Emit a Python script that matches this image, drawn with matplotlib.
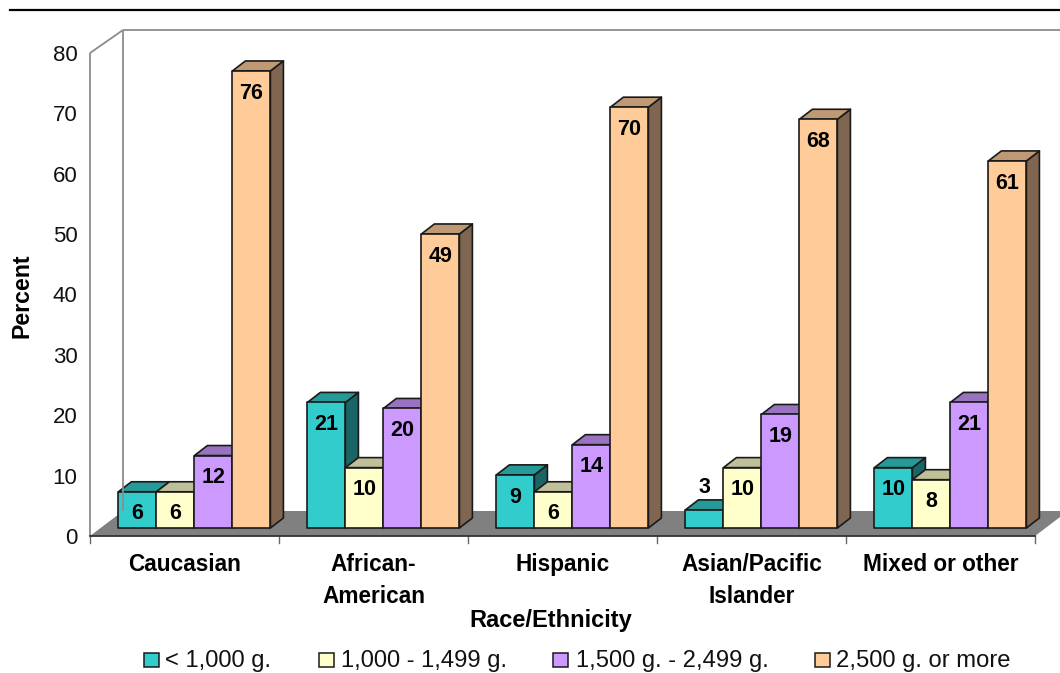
import matplotlib
matplotlib.use("Agg")
import matplotlib.pyplot as plt
from matplotlib.lines import Line2D
from matplotlib.patches import Polygon, Rectangle

plt.rcParams['font.family'] = ['Liberation Sans', 'DejaVu Sans']

# --- Data --------------------------------------------------------------------
categories = ['Caucasian', 'African-\nAmerican', 'Hispanic', 'Asian/Pacific\nIslander', 'Mixed or other']
under_1000 = [6, 20.8, 8.8, 3, 10]
from_1000 = [6, 10, 6, 10, 8]
from_1500 = [12, 19.8, 13.8, 18.8, 20.8]
over_2500 = [75.7, 48.7, 69.7, 67.7, 60.8]
series = [under_1000, from_1000, from_1500, over_2500]
series_names = ['< 1,000 g.', '1,000 - 1,499 g.', '1,500 g. - 2,499 g.', '2,500 g. or more']
y_ticks = [0, 10, 20, 30, 40, 50, 60, 70, 80]

front_colors = ['#33CCCC', '#FFFFCC', '#CC99FF', '#FFCC99']
top_colors = ['#269999', '#BFBF99', '#9973BF', '#BF9973']
side_colors = ['#1A6666', '#808066', '#664D80', '#806650']

W, H = 1060, 673
LEFT, RIGHT, ZERO, TOP = 90, 1035, 536, 53
PX_X = len(categories) / (RIGHT - LEFT)     # data units per pixel
PX_Y = 80 / (ZERO - TOP)

fig = plt.figure(figsize=(W / 100, H / 100), dpi=100, facecolor='white')
ax = fig.add_axes([LEFT / W, 1 - ZERO / H, (RIGHT - LEFT) / W, (ZERO - TOP) / H])
ax.set_xlim(0, len(categories))
ax.set_ylim(0, 80)
ax.patch.set_visible(False)
for s in ax.spines.values():
    s.set_visible(False)


# --- Walls and floor ---------------------------------------------------------
wall_dx, wall_dy, floor_dy = 33 * PX_X, 23 * PX_Y, 25 * PX_Y
n = len(categories)
ax.add_patch(Polygon([(0, 0), (n, 0), (n + wall_dx, floor_dy), (wall_dx, floor_dy)],
                     facecolor='#808080', edgecolor='none', clip_on=False))
wall = dict(color='#8C8C8C', lw=1.3, clip_on=False, solid_capstyle='butt')
ax.plot([0, 0], [0, 80], **wall)
ax.plot([0, wall_dx], [80, 80 + wall_dy], **wall)
ax.plot([wall_dx, wall_dx], [floor_dy, 80 + wall_dy], **wall)
ax.plot([wall_dx, n + wall_dx + 1], [80 + wall_dy, 80 + wall_dy], **wall)
ax.plot([0, n], [0, 0], color='#333333', lw=1.3, clip_on=False, zorder=3)
for i in range(n + 1):
    ax.plot([i, i], [0, -7 * PX_Y], color='#666666', lw=1.0, clip_on=False)


# --- Bars --------------------------------------------------------------------
bar_w = 38 * PX_X
start = 28.4 * PX_X
base = 8 * PX_Y
dx, dy = 13 * PX_X, 10 * PX_Y
edge = dict(edgecolor='#1A1A1A', linewidth=1.2, joinstyle='round', clip_on=False)

for g in range(n):
    for k, values in enumerate(series):
        x0 = g + start + k * bar_w
        top = base + values[g]
        x1 = x0 + bar_w
        ax.add_patch(Polygon([(x1, base), (x1 + dx, base + dy), (x1 + dx, top + dy), (x1, top)],
                             facecolor=side_colors[k], **edge))
        ax.add_patch(Polygon([(x0, top), (x1, top), (x1 + dx, top + dy), (x0 + dx, top + dy)],
                             facecolor=top_colors[k], **edge))
        ax.bar(x0, values[g], bar_w, bottom=base, align='edge', color=front_colors[k], **edge)
    for k, values in enumerate(series):
        x0 = g + start + k * bar_w
        top = base + values[g]
        offset = 16 if values[g] < 5 else -16
        ax.annotate(f'{values[g]:.0f}', (x0 + bar_w / 2, top), xytext=(0, offset),
                    textcoords='offset points', ha='center', va='center',
                    fontsize=15.5, fontweight='bold', color='black', zorder=5)


# --- Axes text ---------------------------------------------------------------
ax.set_yticks(y_ticks)
ax.tick_params(axis='y', length=0, pad=9, labelsize=16, labelcolor='#111111')
ax.set_xticks([])
ax.set_xticks([i + 0.5 for i in range(n)], categories, minor=True)
ax.tick_params(axis='x', which='minor', length=0, pad=12.5, labelsize=16.3)
for label in ax.get_xticklabels(minor=True):
    label.set_fontweight('bold')
    label.set_linespacing(1.47)

ax.set_xlabel('Race/Ethnicity', fontsize=17, fontweight='bold', va='center')
ax.xaxis.set_label_coords((551 - LEFT) / (RIGHT - LEFT), (ZERO - 621) / (ZERO - TOP))
ax.set_ylabel('Percent', fontsize=16.7, fontweight='bold', va='center')
ax.yaxis.set_label_coords((22 - LEFT) / (RIGHT - LEFT), (ZERO - 296) / (ZERO - TOP))


# --- Legend and rule ---------------------------------------------------------
handle_x = [144, 319, 553, 815]
text_x = [165, 341, 576, 836]
for name, color, hx, tx in zip(series_names, front_colors, handle_x, text_x):
    fig.add_artist(Rectangle((hx / W, 1 - 667 / H), 15 / W, 14 / H, transform=fig.transFigure,
                             facecolor=color, edgecolor='#1A1A1A', linewidth=1.1))
    fig.text(tx / W, 1 - 661 / H, name, fontsize=17.1, va='center', ha='left', color='#111111')

fig.add_artist(Line2D([10 / W, 1], [1 - 10 / H, 1 - 10 / H], color='black', lw=1.6))

fig.savefig('out.png', dpi=100)
plt.close(fig)
